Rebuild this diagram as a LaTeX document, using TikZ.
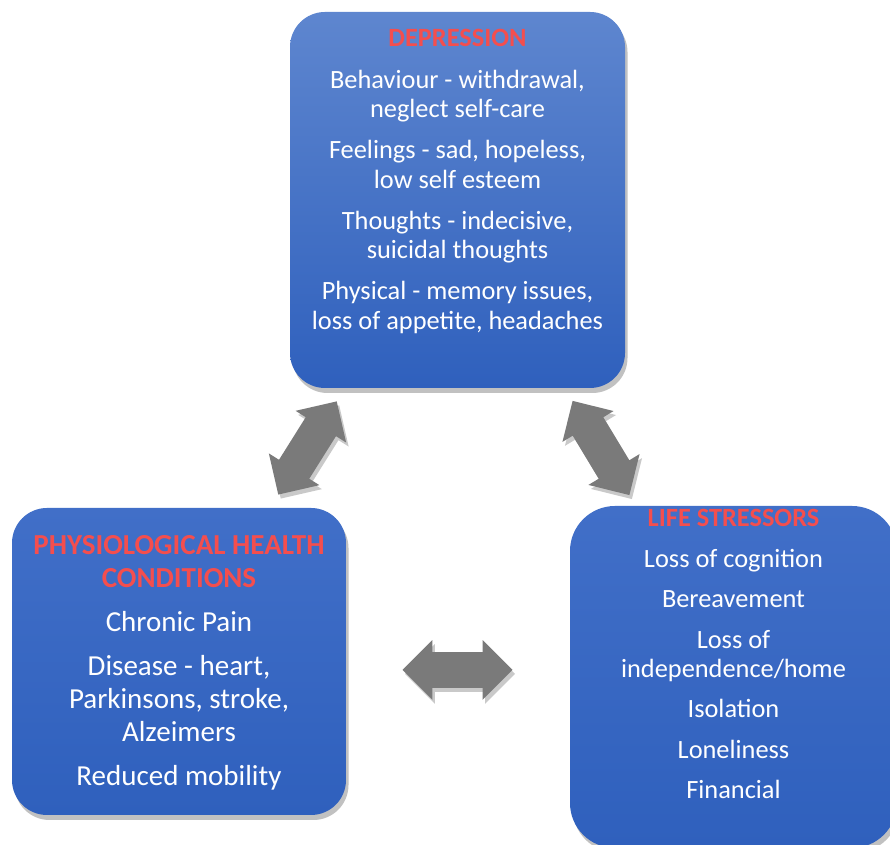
\documentclass[tikz,border=0pt]{standalone}
\usepackage{fontspec}
\setmainfont{Carlito}
\usepackage{xcolor}
\usetikzlibrary{shapes.arrows,shadows,positioning}
\definecolor{titlered}{HTML}{F44E4E}
\definecolor{arrowgray}{HTML}{7A7A7A}
\definecolor{deptop}{HTML}{5E86CF}
\definecolor{panelbot}{HTML}{2F60BD}
\definecolor{paneltop}{HTML}{416FC8}
\tikzset{
  panel/.style     = {rectangle, rounded corners=0.7cm, draw=none, inner sep=0pt,
                      top color=paneltop, bottom color=panelbot,
                      drop shadow={shadow xshift=0.05cm, shadow yshift=-0.1cm, opacity=0.35, fill=black!70}},
  paneltext/.style = {text=white, align=center, inner sep=0pt},
  smalltext/.style = {font=\fontsize{15}{16.7}\selectfont},
  largetext/.style = {font=\fontsize{16.5}{18.7}\selectfont},
  linkarrow/.style = {double arrow, fill=arrowgray, draw=none, inner sep=0.35cm,
                      minimum height=2.2cm, minimum width=1.18cm,
                      double arrow head extend=0.24cm,
                      drop shadow={shadow xshift=0.05cm, shadow yshift=-0.08cm, opacity=0.3, fill=black!70}},
}
\newcommand{\heading}[1]{{\bfseries\color{titlered}#1}}
\begin{document}
\begin{tikzpicture}
      \useasboundingbox (0,0) rectangle (17.8,16.9);
      % boxes
      \node[panel, top color=deptop, minimum width=6.7cm, minimum height=7.52cm] (dep) at (9.15,12.9) {};
      \node[panel, minimum width=6.68cm, minimum height=6.14cm] (phys) at (3.58,3.67) {};
      \node[panel, rounded corners=0.9cm, minimum width=6.54cm, minimum height=6.84cm] (life) at (14.67,3.36) {};

      % texts
      \node[paneltext, smalltext, below=0.35cm of dep.north] (deptxt) {\heading{DEPRESSION}\\[6.8pt]
        Behaviour - withdrawal,\\ neglect self-care\\[6.8pt]
        Feelings - sad, hopeless,\\ low self esteem\\[6.8pt]
        Thoughts - indecisive,\\ suicidal thoughts\\[6.8pt]
        Physical - memory issues,\\ loss of appetite, headaches};
      \node[paneltext, largetext, below=0.55cm of phys.north] (phystxt) {\heading{PHYSIOLOGICAL HEALTH}\\ \heading{CONDITIONS}\\[6.4pt]
        Chronic Pain\\[6.4pt]
        Disease - heart,\\ Parkinsons, stroke,\\ Alzeimers\\[6.4pt]
        Reduced mobility};
      \node[paneltext, smalltext, below=0.07cm of life.north] (lifetxt) {\heading{LIFE STRESSORS}\\[6.3pt]
        Loss of cognition\\[6.3pt]
        Bereavement\\[6.3pt]
        Loss of\\ independence/home\\[6.3pt]
        Isolation\\[6.3pt]
        Loneliness\\[6.3pt]
        Financial};

      % arrows
      \node[linkarrow, rotate=57.9] (deptophys) at (6.15,7.94) {};
      \node[linkarrow, rotate=-58.9] (deptolife) at (12.02,7.94) {};
      \node[linkarrow] (physlife) at (9.15,3.5) {};
\end{tikzpicture}
\end{document}
